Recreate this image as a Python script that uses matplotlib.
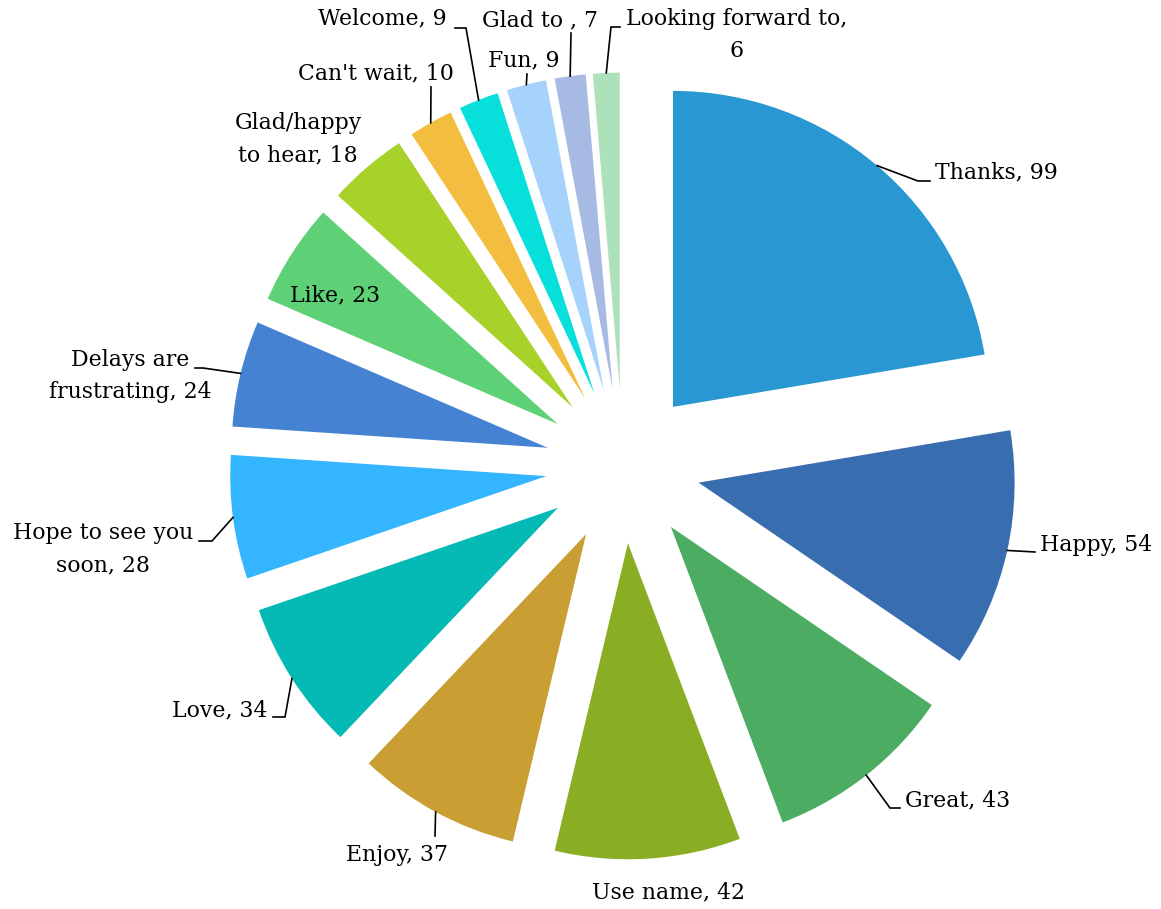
import matplotlib
matplotlib.use("Agg")
import matplotlib.pyplot as plt
import numpy as np

labels = ["Thanks", "Happy", "Great", "Use name", "Enjoy", "Love",
          "Hope to see you\nsoon", "Delays are\nfrustrating", "Like",
          "Glad/happy\nto hear", "Can't wait", "Welcome", "Fun", "Glad to ",
          "Looking forward to,\n"]
values = [99, 54, 43, 42, 37, 34, 28, 24, 23, 18, 10, 9, 9, 7, 6]
colors = ["#2997D2", "#386EAF", "#4BAC62", "#8AAE23", "#C99E33", "#05B9B5",
          "#33B5FF", "#4583D2", "#5ED177", "#A6D22A", "#F3BE3F", "#07DFDB",
          "#A6D3FB", "#A6BAE3", "#ADE1B9"]

W, H = 1161, 909
CX, CY, R = 623, 466, 316          # pie centre and radius in pixels (y down)
EXPLODE = 0.245                     # fraction of radius

# label layout (pixels, y down): text x, text y, ha, leader end x, end y, elbow dx
layout = [
    (935, 172, "left", 930, 181, -12),
    (1040, 545, "left", 1035, 552, 0),
    (905, 800, "left", 900, 808, -10),
    (668, 892, "center", None, None, 0),
    (397, 855, "center", 435, 836, 0),
    (268, 710, "right", 273, 717, 12),
    (103, 549, "center", 199, 541, 13),
    (130, 376, "center", 195, 368, 8),
    (335, 295, "center", None, None, 0),
    (298, 139, "center", None, None, 0),
    (376, 73, "center", 431, 87, 0),
    (382, 18, "center", 455, 28, 11),
    (524, 60, "center", 527, 74, 0),
    (540, 20, "center", 571, 33, 0),
    (737, 35, "center", 620, 27, -9),
]

plt.rcParams['font.family'] = ['DejaVu Serif']
fig = plt.figure(figsize=(W / 100, H / 100), dpi=100)
ax = fig.add_axes([0, 0, 1, 1])

def fy(y):
    return H - y

wedges, _ = ax.pie(values, colors=colors, startangle=90, counterclock=False,
                   explode=[EXPLODE * R] * len(values), radius=R,
                   center=(CX, fy(CY)), wedgeprops=dict(linewidth=0))
ax.set_xlim(0, W)
ax.set_ylim(0, H)
ax.set_aspect('equal')
ax.axis('off')

for w, lab, val, lay in zip(wedges, labels, values, layout):
    tx, ty, ha, lx, ly, dx = lay
    if lab.endswith(",\n"):
        txt = lab + str(val)
    else:
        txt = f"{lab}, {val}"
    ax.text(tx, fy(ty), txt, ha=ha, va="center", fontsize=15.8,
            multialignment="center", color="black", linespacing=1.6)
    if lx is not None:
        ang = np.deg2rad((w.theta1 + w.theta2) / 2)
        cx, cy = w.center
        sx = cx + w.r * np.cos(ang)
        sy = cy + w.r * np.sin(ang)
        xs = [sx, lx + dx, lx]
        ys = [sy, fy(ly), fy(ly)]
        ax.plot(xs, ys, color="black", lw=1.2, solid_joinstyle="miter")

fig.savefig("out.png", dpi=100)
